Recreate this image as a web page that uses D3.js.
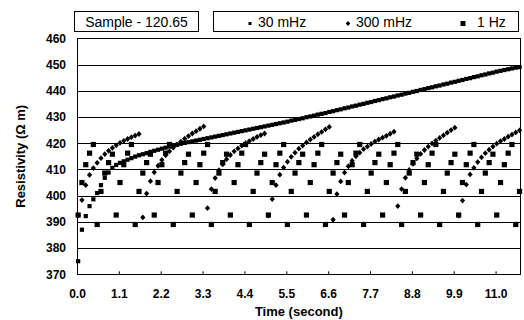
<!DOCTYPE html>
<html>
<head>
<meta charset="utf-8">
<script src="https://cdn.jsdelivr.net/npm/d3@7"></script>
<style>
  html, body { margin: 0; padding: 0; background: #fff; }
  svg { display: block; }
  text { font-family: "Liberation Sans", Arial, Helvetica, sans-serif; fill: #000; }
</style>
</head>
<body>
<svg id="chart" width="524" height="320"></svg>
<script>
// ---- data (sampled every 0.1 s, first sample at 0.03 s) ----
const sampleStart = 0.03;
const sampleStep = 0.1;

const series30mHz = [
  375.0,387.0,392.2,396.0,398.6,401.0,404.0,406.8,408.8,410.6,
  411.7,412.5,413.1,413.7,414.3,414.9,415.4,415.8,416.2,416.7,
  417.1,417.5,417.9,418.3,418.7,419.1,419.4,419.8,420.1,420.4,
  420.7,421.0,421.3,421.6,421.9,422.2,422.5,422.8,423.1,423.4,
  423.7,424.0,424.3,424.6,424.9,425.2,425.5,425.8,426.1,426.4,
  426.7,427.0,427.3,427.6,427.9,428.2,428.6,428.9,429.2,429.5,
  429.9,430.2,430.5,430.9,431.2,431.5,431.9,432.2,432.6,432.9,
  433.3,433.6,434.0,434.3,434.7,435.0,435.4,435.7,436.1,436.4,
  436.8,437.1,437.5,437.8,438.2,438.5,438.9,439.2,439.6,439.9,
  440.3,440.6,441.0,441.3,441.7,442.0,442.4,442.7,443.1,443.4,
  443.8,444.1,444.5,444.8,445.2,445.5,445.9,446.2,446.6,446.9,
  447.3,447.6,447.9,448.2,448.5,448.8,449.0
];

const series300mHz = [
  392.4,398.3,404.0,407.9,410.5,412.5,414.3,415.8,417.1,418.2,419.2,420.1,420.9,421.6,422.3,422.9,423.5,
  391.7,400.8,405.5,408.9,411.4,413.6,415.4,416.9,418.3,419.5,420.6,421.7,422.7,423.7,424.6,425.5,426.4,
  395.2,402.5,406.7,409.7,411.9,413.9,415.5,416.9,418.0,419.1,420.0,420.8,421.6,422.4,423.1,423.7,
  392.4,398.7,404.0,408.0,410.7,412.9,414.8,416.4,417.9,419.1,420.3,421.4,422.4,423.4,424.3,425.3,426.2,
  390.8,400.6,405.4,408.8,411.2,413.3,415.0,416.4,417.7,418.7,419.7,420.6,421.4,422.1,422.8,423.6,424.4,
  396.0,402.5,406.8,409.8,412.1,414.2,415.9,417.4,418.7,419.9,421.0,422.0,423.0,424.0,425.0,425.9,
  392.4,398.1,404.2,408.1,410.6,412.8,414.6,416.2,417.5,418.7,419.8,420.8,421.6,422.5,423.3,424.1,424.9
];

const series1Hz = [
  392.6,405.0,411.8,416.2,419.5,389.0,401.6,408.6,412.6,415.8,
  392.6,405.0,411.8,416.2,419.5,389.0,401.6,408.6,412.6,415.8,
  392.6,405.0,411.8,416.2,419.5,389.0,401.6,408.6,412.6,415.8,
  392.6,405.0,411.8,416.2,419.5,389.0,401.6,408.6,412.6,415.8,
  392.6,405.0,411.8,416.2,419.5,389.0,401.6,408.6,412.6,415.8,
  392.6,405.0,411.8,416.2,419.5,389.0,401.6,408.6,412.6,415.8,
  392.6,405.0,411.8,416.2,419.5,389.0,401.6,408.6,412.6,415.8,
  392.6,405.0,411.8,416.2,419.5,389.0,401.6,408.6,412.6,415.8,
  392.6,405.0,411.8,416.2,419.5,389.0,401.6,408.6,412.6,415.8,
  392.6,405.0,411.8,416.2,419.5,389.0,401.6,408.6,412.6,415.8,
  392.6,405.0,411.8,416.2,419.5,389.0,401.6,408.6,412.6,415.8,
  392.6,405.0,411.8,416.2,419.5,389.0,401.6
];

const seriesNames = ["30 mHz", "300 mHz", "1 Hz"];
const sampleLabel = "Sample - 120.65";
const xTickValues = [0.0, 1.1, 2.2, 3.3, 4.4, 5.5, 6.6, 7.7, 8.8, 9.9, 11.0];
const yTickValues = [370, 380, 390, 400, 410, 420, 430, 440, 450, 460];
const xTitle = "Time (second)";
const yTitle = "Resistivity (\u03A9 m)";

// ---- drawing ----
(function () {
const svg = d3.select("#chart");
const pL = 77, pR = 520.7, pT = 38.3, pB = 274.3;

const x = d3.scaleLinear().domain([0, 11.66]).range([pL, pR]);
const y = d3.scaleLinear().domain([370, 460]).range([pB, pT]);

const toPoints = vals => vals.map((v, i) => ({ t: sampleStart + i * sampleStep, v }));

// gridlines
svg.append("g")
  .attr("transform", `translate(${pL},0)`)
  .call(d3.axisLeft(y).tickValues(yTickValues).tickSize(-(pR - pL)).tickFormat(""))
  .call(g => g.select(".domain").remove())
  .call(g => g.selectAll("line").attr("stroke", "#000").attr("stroke-width", 1).attr("shape-rendering", "crispEdges"));

// y labels
svg.append("g")
  .attr("transform", `translate(${pL},0)`)
  .call(d3.axisLeft(y).tickValues(yTickValues).tickSize(0).tickPadding(11).tickFormat(d3.format("d")))
  .call(g => g.select(".domain").remove())
  .call(g => g.selectAll("text").attr("font-size", 12).attr("font-weight", "bold")
    .attr("font-family", "'Liberation Sans', Arial, sans-serif"));

// x axis
svg.append("g")
  .attr("transform", `translate(0,${pB})`)
  .call(d3.axisBottom(x).tickValues(xTickValues).tickSize(-3).tickPadding(15.5).tickFormat(d3.format(".1f")))
  .call(g => g.select(".domain").remove())
  .call(g => g.selectAll("line").attr("stroke", "#000"))
  .call(g => g.selectAll("text").attr("font-size", 12).attr("font-weight", "bold")
    .attr("font-family", "'Liberation Sans', Arial, sans-serif"));

// frame
svg.append("rect")
  .attr("x", pL).attr("y", pT)
  .attr("width", pR - pL).attr("height", pB - pT)
  .attr("fill", "none").attr("stroke", "#000").attr("stroke-width", 1)
  .attr("shape-rendering", "crispEdges");

// markers
const plot = svg.append("g");
const diamond = r => `M0,${-r}L${r * 0.9},0L0,${r}L${-r * 0.9},0Z`;

plot.append("g").selectAll("rect")
  .data(toPoints(series30mHz)).join("rect")
  .attr("x", d => x(d.t) - 2.1).attr("y", d => y(d.v) - 2.1)
  .attr("width", 4.2).attr("height", 4.2).attr("fill", "#000");

plot.append("g").selectAll("path")
  .data(toPoints(series300mHz)).join("path")
  .attr("transform", d => `translate(${x(d.t)},${y(d.v)})`)
  .attr("d", diamond(2.9)).attr("fill", "#000");

plot.append("g").selectAll("rect")
  .data(toPoints(series1Hz)).join("rect")
  .attr("x", d => x(d.t) - 2.6).attr("y", d => y(d.v) - 2.6)
  .attr("width", 5.2).attr("height", 5.2).attr("fill", "#000");

// axis titles
svg.append("text")
  .attr("x", (pL + pR) / 2).attr("y", 316)
  .attr("text-anchor", "middle").attr("font-size", 13).attr("font-weight", "bold")
  .text(xTitle);

svg.append("text")
  .attr("transform", `translate(20,${(pT + pB) / 2}) rotate(-90)`)
  .attr("text-anchor", "middle").attr("dominant-baseline", "central")
  .attr("font-size", 13).attr("font-weight", "bold")
  .text(yTitle);

// sample box
svg.append("rect").attr("x", 74.5).attr("y", 11.5).attr("width", 124).attr("height", 20)
  .attr("fill", "#fff").attr("stroke", "#000");
svg.append("text").attr("x", 136.5).attr("y", 26.5).attr("text-anchor", "middle")
  .attr("font-size", 14).text(sampleLabel);

// legend box
svg.append("rect").attr("x", 213.5).attr("y", 11.5).attr("width", 305).attr("height", 20)
  .attr("fill", "#fff").attr("stroke", "#000");
const legendItems = [
  { name: seriesNames[0], mx: 250, tx: 258, shape: "small" },
  { name: seriesNames[1], mx: 348, tx: 356, shape: "diamond" },
  { name: seriesNames[2], mx: 463, tx: 477, shape: "square" }
];
const lg = svg.append("g").selectAll("g").data(legendItems).join("g");
lg.each(function (d) {
  const g = d3.select(this);
  const cy = 23.5;
  if (d.shape === "small") {
    g.append("rect").attr("x", d.mx - 1.5).attr("y", cy - 1.5).attr("width", 3).attr("height", 3);
  } else if (d.shape === "diamond") {
    g.append("path").attr("transform", `translate(${d.mx},${cy})`).attr("d", diamond(2.5));
  } else {
    g.append("rect").attr("x", d.mx - 2.5).attr("y", cy - 2.5).attr("width", 5).attr("height", 5);
  }
  g.append("text").attr("x", d.tx).attr("y", 26.5).attr("font-size", 14).text(d.name);
});
})();
</script>
</body>
</html>
